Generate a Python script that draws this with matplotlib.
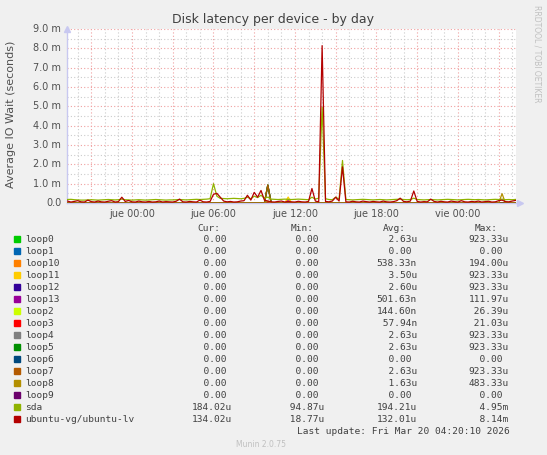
import numpy as np
import matplotlib
matplotlib.use('Agg')
import matplotlib.pyplot as plt
from matplotlib.ticker import MultipleLocator, FixedLocator

# ── Data (values in milliseconds, 15 min steps starting at jue 00:00 - 4.75 h) ──
T0_HOURS = -4.75
STEP_HOURS = 0.25

sda = [
    0.18, 0.19, 0.17, 0.16, 0.15, 0.15, 0.16, 0.17, 0.16, 0.15,
    0.16, 0.17, 0.18, 0.17, 0.16, 0.17, 0.20, 0.17, 0.16, 0.15,
    0.16, 0.17, 0.16, 0.15, 0.16, 0.17, 0.18, 0.17, 0.16, 0.15,
    0.16, 0.16, 0.17, 0.18, 0.17, 0.16, 0.17, 0.18, 0.19, 0.18,
    0.19, 0.20, 0.22, 1.00, 0.35, 0.24, 0.23, 0.22, 0.23, 0.24,
    0.23, 0.22, 0.24, 0.30, 0.22, 0.35, 0.28, 0.40, 0.25, 0.30,
    0.20, 0.19, 0.18, 0.19, 0.20, 0.19, 0.18, 0.19, 0.20, 0.19,
    0.18, 0.17, 0.30, 0.20, 0.25, 4.95, 0.22, 0.18, 0.17, 0.30,
    0.20, 2.20, 0.18, 0.17, 0.16, 0.17, 0.18, 0.19, 0.18, 0.17,
    0.16, 0.17, 0.18, 0.17, 0.16, 0.17, 0.18, 0.19, 0.20, 0.18,
    0.17, 0.18, 0.25, 0.18, 0.17, 0.16, 0.17, 0.18, 0.17, 0.16,
    0.17, 0.18, 0.19, 0.18, 0.17, 0.16, 0.17, 0.18, 0.19, 0.18,
    0.17, 0.18, 0.17, 0.16, 0.17, 0.18, 0.19, 0.18, 0.20, 0.17,
    0.18, 0.17, 0.184,
]

ubuntu_lv = [
    0.10, 0.05, 0.08, 0.12, 0.06, 0.05, 0.15, 0.07, 0.05, 0.10,
    0.06, 0.05, 0.09, 0.12, 0.05, 0.07, 0.30, 0.08, 0.13, 0.06,
    0.05, 0.10, 0.06, 0.05, 0.08, 0.05, 0.06, 0.10, 0.05, 0.07,
    0.06, 0.05, 0.09, 0.20, 0.06, 0.05, 0.08, 0.06, 0.05, 0.15,
    0.06, 0.05, 0.08, 0.45, 0.50, 0.30, 0.10, 0.06, 0.08, 0.05,
    0.06, 0.10, 0.12, 0.40, 0.15, 0.55, 0.30, 0.65, 0.15, 0.10,
    0.06, 0.05, 0.08, 0.10, 0.05, 0.07, 0.06, 0.05, 0.09, 0.06,
    0.05, 0.08, 0.75, 0.10, 0.06, 8.14, 0.08, 0.06, 0.10, 0.30,
    0.10, 1.87, 0.06, 0.05, 0.09, 0.06, 0.05, 0.10, 0.07, 0.05,
    0.08, 0.06, 0.05, 0.10, 0.06, 0.05, 0.07, 0.12, 0.25, 0.08,
    0.06, 0.10, 0.62, 0.08, 0.05, 0.07, 0.06, 0.20, 0.08, 0.05,
    0.09, 0.06, 0.05, 0.10, 0.07, 0.05, 0.12, 0.06, 0.05, 0.08,
    0.06, 0.10, 0.05, 0.07, 0.09, 0.05, 0.06, 0.12, 0.15, 0.07,
    0.06, 0.10, 0.134,
]

# loop devices are zero except for a few samples: (sample index, value in ms)
loop_peaks = {
    "loop0":  [(59, 0.923)],
    "loop1":  [],
    "loop10": [(65, 0.194)],
    "loop11": [(59, 0.923), (65, 0.31)],
    "loop12": [(59, 0.923)],
    "loop13": [(65, 0.112)],
    "loop2":  [(65, 0.026)],
    "loop3":  [(65, 0.021)],
    "loop4":  [(59, 0.923)],
    "loop5":  [(59, 0.923)],
    "loop6":  [],
    "loop7":  [(59, 0.923)],
    "loop8":  [(59, 0.10), (128, 0.483)],
    "loop9":  [],
}

names = ["loop0", "loop1", "loop10", "loop11", "loop12", "loop13", "loop2",
         "loop3", "loop4", "loop5", "loop6", "loop7", "loop8", "loop9",
         "sda", "ubuntu-vg/ubuntu-lv"]
colors = ["#00CC00", "#0066B3", "#FF8000", "#FFCC00", "#330099", "#990099",
          "#CCFF00", "#FF0000", "#808080", "#008F00", "#00487D", "#B35A00",
          "#B38F00", "#6B006B", "#8FB300", "#B30000"]
cur_vals = ["  0.00 "] * 14 + ["184.02u", "134.02u"]
min_vals = ["  0.00 "] * 14 + [" 94.87u", " 18.77u"]
avg_vals = ["  2.63u", "  0.00 ", "538.33n", "  3.50u", "  2.60u", "501.63n",
            "144.60n", " 57.94n", "  2.63u", "  2.63u", "  0.00 ", "  2.63u",
            "  1.63u", "  0.00 ", "194.21u", "132.01u"]
max_vals = ["923.33u", "  0.00 ", "194.00u", "923.33u", "923.33u", "111.97u",
            " 26.39u", " 21.03u", "923.33u", "923.33u", "  0.00 ", "923.33u",
            "483.33u", "  0.00 ", "  4.95m", "  8.14m"]

xtick_pos = [0, 6, 12, 18, 24]
xtick_labels = ["jue 00:00", "jue 06:00", "jue 12:00", "jue 18:00", "vie 00:00"]

# ── Figure ───────────────────────────────────────────────────────────────────
W, H = 547, 455
fig = plt.figure(figsize=(W / 100, H / 100), dpi=100, facecolor="#F0F0F0")

def px(x, y):
    return x / W, 1 - y / H

ax_l, ax_r, ax_t, ax_b = 67, 516, 29, 203
ax = fig.add_axes([ax_l / W, 1 - ax_b / H, (ax_r - ax_l) / W, (ax_b - ax_t) / H])
ax.set_facecolor("white")

n = len(sda)
hours = T0_HOURS + STEP_HOURS * np.arange(n)

series = []
for name in names[:14]:
    vals = np.zeros(n)
    for idx, v in loop_peaks[name]:
        vals[idx] = v
    series.append(vals)
series.append(np.array(sda))
series.append(np.array(ubuntu_lv))

for vals, c in zip(series, colors):
    ax.plot(hours, vals, color=c, lw=0.9, zorder=3)

ax.set_xlim((ax_l - 132) / 13.58, (ax_r - 132) / 13.58)
ax.set_ylim(0, 9.0)

# grid like rrdtool: red dotted major, grey dotted minor
ax.xaxis.set_major_locator(FixedLocator(np.arange(-3, 28, 3)))
ax.xaxis.set_minor_locator(MultipleLocator(1))
ax.yaxis.set_major_locator(MultipleLocator(1.0))
ax.yaxis.set_minor_locator(MultipleLocator(0.5))
ax.grid(which="minor", color="#CCCCCC", ls=(0, (1, 2)), lw=0.8, zorder=1)
ax.grid(which="major", color="#F0A0A0", ls=(0, (1, 2)), lw=0.8, zorder=2)
ax.set_xticklabels([])
ax.tick_params(which="both", length=0)
ax.set_yticklabels([])

for s in ["top", "right"]:
    ax.spines[s].set_visible(False)
for s in ["left", "bottom"]:
    ax.spines[s].set_color("#C8C8F0")
    ax.spines[s].set_linewidth(1)
ax.plot([0], [1.0], marker="^", ms=4, color="#C8C8F0", transform=ax.transAxes, clip_on=False)
ax.plot([1.01], [0], marker=">", ms=4, color="#C8C8F0", transform=ax.transAxes, clip_on=False)

txt = "#505050"
for v in range(10):
    lab = "0.0" if v == 0 else f"{v:.1f} m"
    ax.text(-0.013, v, lab, transform=ax.get_yaxis_transform(), ha="right", va="center",
            fontsize=7, color=txt)
for p, lab in zip(xtick_pos, xtick_labels):
    ax.text(p, -0.035, lab, transform=ax.get_xaxis_transform(), ha="center", va="top",
            fontsize=7, color=txt)

fig.text(*px(273, 19), "Disk latency per device - by day", ha="center", va="center",
         fontsize=9, color="#404040")
fig.text(*px(11, 114), "Average IO Wait (seconds)", ha="center", va="center",
         rotation=90, fontsize=8, color=txt)
fig.text(*px(537, 5), "RRDTOOL / TOBI OETIKER", ha="center", va="top",
         rotation=-90, fontsize=5.5, color="#C0C0C0")

# ── Legend ───────────────────────────────────────────────────────────────────
mono = dict(family="DejaVu Sans Mono", fontsize=6.8, color="#404040", va="center")
cols = [192, 284.5, 376.7, 468.5]
for x, head in zip(cols, ["Cur:", "Min:", "Avg:", "Max:"]):
    fig.text(*px(x + 5.7, 228.3), head, ha="left", **mono)

for i, name in enumerate(names):
    y = 239.3 + 12 * i
    fig.patches.append(plt.Rectangle(px(13.5, y + 3), 6 / W, 6 / H, color=colors[i],
                                     transform=fig.transFigure, figure=fig))
    fig.text(*px(25.3, y), name, ha="left", **mono)
    for x, vals in zip(cols, [cur_vals, min_vals, avg_vals, max_vals]):
        fig.text(*px(x, y), vals[i], ha="left", **mono)

fig.text(*px(509.5, 431.7), "Last update: Fri Mar 20 04:20:10 2026", ha="right", **mono)
fig.text(*px(261, 444.3), "Munin 2.0.75", ha="center", va="center", fontsize=5.5,
         color="#C0C0C0")

fig.savefig("out.png", dpi=100, facecolor=fig.get_facecolor())
